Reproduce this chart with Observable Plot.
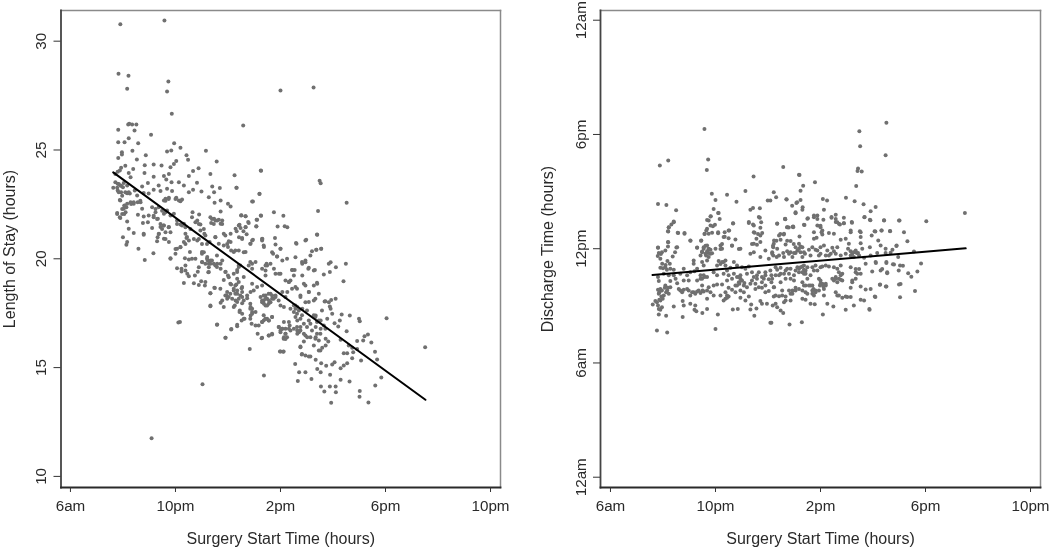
<!DOCTYPE html>
<html><head><meta charset="utf-8">
<script src="https://cdn.jsdelivr.net/npm/d3@7"></script>
<script src="https://cdn.jsdelivr.net/npm/@observablehq/plot@0.6"></script>
<style>
html,body{margin:0;padding:0;background:#fff}
#wrap{position:relative;width:1050px;height:547px;overflow:hidden}
#wrap svg{position:absolute;top:0;filter:blur(0.35px)}
</style></head><body><div id="wrap"></div>
<script>
const xTicks=[6,10,14,18,22];
const xTickLabels=["6am","10pm","2pm","6pm","10pm"];
const losTicks=[10,15,20,25,30];
const dischargeTicks=[0,6,12,18,24];
const dischargeTickLabels=["12am","6am","12pm","6pm","12am"];
const xLabel="Surgery Start Time (hours)";
const losLabel="Length of Stay (hours)";
const dischargeLabel="Discharge Time (hours)";
const losFit=[[7.63,23.97],[19.52,13.52]];
const dischargeFit=[[7.6,10.62],[19.53,12.02]];

const losPoints=[
[7.9,30.78],[9.58,30.95],[7.83,28.5],[8.21,28.41],[8.16,27.81],[9.73,28.15],[9.68,27.69],[9.86,26.66],[12.58,26.13],[8.2,26.17],[8.24,26.2],[8.35,26.17],[8.51,26.17],[7.82,25.93],[8.44,25.9],[9.07,25.7],
[14,27.73],[15.26,27.87],[9.09,11.75],[11.03,14.23],[10.11,17.07],
[7.82,25.36],[8.06,25.36],[8.22,25.54],[8.58,25.31],[7.96,24.9],[7.96,24.79],[7.82,24.63],[8.36,24.96],[8.53,24.56],[8.87,24.76],[9.95,25.31],[9.84,24.98],[9.68,24.93],[10.19,25.1],[10.42,24.76],[10.48,24.55],[11.16,24.96],[11.57,24.47],[13.25,24.06],[12.25,23.84],[12.32,23.26],[11.33,23.9],[10.88,24.16],[10.67,24.04],[10.51,23.81],
[10.03,24.49],[9.94,24.36],[9.81,24.21],[9.47,24.29],[9.17,24.33],[8.83,24.3],[8.39,24.13],[8.09,24.28],[7.93,24.18],[7.8,24],[7.88,24.06],[7.71,23.9],[8.22,23.94],[8.29,23.75],[8.82,23.94],[9.17,23.77],[9.56,23.8],[9.75,23.9],[9.65,23.64],[9.85,23.52],[10.13,23.52],[10.32,23.37],[10.82,23.5],
[7.71,23.52],[7.63,23.26],[7.8,23.45],[7.9,23.37],[8.03,23.48],[8.16,23.37],[7.8,23.14],[7.93,23.06],[7.9,22.68],[8.16,23.02],[8.26,23],[8.45,23.14],[8.73,23.32],[8.95,23.48],[8.54,22.91],[8.79,23.02],[8.98,23],[9.17,23.17],[9.36,23.37],[9.43,23.11],[9.68,23.22],[9.87,23.11],[9.62,22.76],[9.75,22.8],[9.56,22.68],[10.03,22.8],[10.25,22.73],[10.13,22.68],[10.51,23.06],[10.67,23.17],[10.99,23.09],[11.27,22.83],[11.4,23.32],[11.69,23.25],[11.47,23.06],[11.72,22.68],[11.49,22.57],[12,22.53],[12.1,22.4],[12.92,22.63],[13.2,22.99],[11.72,22.17],[13.25,21.99],
[8.06,22.45],[8.16,22.53],[8.29,22.6],[8.41,22.53],[8.67,22.6],[7.78,22.1],[8.1,22.14],[7.88,21.91],[8.03,22.3],[7.97,22.06],[8.73,22.3],[8.57,22.02],[8.79,21.94],[9.11,22.37],[9.24,22.14],[8.98,21.99],[9.17,21.91],[9.33,21.84],[9.56,22.07],[9.68,22.22],[9.81,21.99],[9.94,22.07],[10.06,21.76],[10.19,21.58],[10.32,21.61],[10.65,22.14],[10.63,21.91],[10.9,22.04],[10.83,21.76],[10.95,21.58],[11.33,21.91],[11.47,21.84],[11.59,21.76],[11.78,21.76],[11.36,21.64],[11.72,21.61],[12.5,21.99],[12.67,21.96],[12.79,21.64],[12.41,21.53],[12.29,21.38],[12.67,21.46],[13.11,21.79],[13.08,21.49],
[8.16,21.71],[8.22,21.38],[8.41,21.18],[8.79,21.15],[8.76,21.64],[8.95,21.68],[9.11,21.41],[9.43,21.46],[9.56,21.53],[9.75,21.46],[9.37,21.15],[9.62,21.22],[9.3,20.81],[9.56,20.92],[9.75,20.77],[8,20.99],[8.16,20.77],[8.13,20.64],[8.59,20.46],[8.83,19.95],[9.16,20.26],[9.81,20.03],[10,20.23],[10.19,20.54],[10.06,20.46],[10.38,21.15],[10.42,20.96],[10.32,20.77],[10.55,20.31],[10.63,20],[10.83,20.84],[10.95,21.3],[11.1,21.15],[11.3,20.77],[11.01,20.31],[11.21,20.08],[11.52,21],[11.65,20.69],[11.84,21.15],[12.1,21.15],[12.1,20.77],[12,20.54],[12.41,20.38],[12.22,20.31],[12.67,20.31],[12.86,20.69],[13.3,20.92],[13.37,20.54],[11.59,19.77],[11.72,19.77],[11.27,19.77],[12.41,19.62],
[15.39,21.12],[14.95,20.84],[14.59,20.72],[15.2,20.35],[15.14,20.15],[15.36,20.41],[15.55,20.46],[14,20.46],[13.3,20.84],[13.36,20.61],[12.85,20.69],[12.92,20.84],[12.54,20.96],[12.03,20.81],[11.84,20.61],[12.12,20.38],[12.28,20.38],[12.6,20.3],[13.68,20.3],[13.87,20.11],[14.25,20],[14.82,19.85],[14.95,19.92],[14.54,19.49],[14.44,19.49],[15.08,19.59],[15.31,19.49],[15.84,19.77],[15.88,19.39],[12.92,19.77],[13.05,19.85],[12.79,19.69],[13.49,19.69],[13.62,19.77],[13.3,19.54],[13.43,19.46],[13.81,19.31],[12.41,19.69],[12.35,19.49],[11.58,20.15],[11.39,19.92],[11.52,19.69],[11.78,19.92],[11.9,19.39],[11.27,19.39],[11.01,20.23],[11.01,19.85],[11.14,18.93],[11.48,18.67],[11.33,18.42],[11.33,17.85],[11.78,18.08],[11.58,16.97],[11.9,16.37],[12.13,16.77],[11.97,18.47],[12.09,18.85],[12.28,18.77],[12.41,18.93],[12.6,19.16],[12.54,18.47],[12.28,18.39],[12.47,18.31],[12.73,18.31],[12.16,18.16],[12.35,18.01],[12.6,18.08],[12.45,17.62],[12.6,17.24],[12.35,16.97],[12.85,17.7],[12.92,17.47],[13.05,17.55],[13.11,18.7],[13.3,18.77],[12.98,18.54],[12.92,18.85],[13.43,18.31],[13.36,18.08],[13.62,18.39],[13.68,18.16],[13.55,17.93],[13.81,18.31],[13.93,18.08],[13.36,17.4],[13.49,17.24],[13.3,17.09],[13.68,17.32],[13.17,16.94],[13.13,16.55],[13.3,16.37],[13.55,16.48],[13.68,16.55],[12.83,15.85],[14,15.74],[14.12,15.74],[13.93,16.86],[14.06,16.78],[14.19,16.55],[14.12,16.32],[14.35,16.94],[14.38,16.71],[14.63,16.86],[14.7,16.63],[14.89,16.55],[15.14,16.4],[15.33,16.32],[15.52,16.55],[14.76,15.94],[14.82,15.63],[15.14,15.51],[15.52,15.79],[14.19,18.24],[14.44,18.62],[14.32,18.93],[14.63,18.62],[14.95,18.77],[15.39,18.9],[15.08,18.47],[14.76,18.31],[15.33,18.16],[15.71,18.05],[14.57,17.85],[14.7,17.62],[14.38,17.7],[14.95,18],[15.01,17.62],[14.82,17.4],[15.27,17.4],[15.58,17.62],[15.84,18],[15.39,17.09],[15.78,17.24],[15.71,16.78],[15.01,16.86],
[15.91,19.84],[16.11,19.61],[16.49,19.77],[16.4,18.97],[15.65,19.28],[15.55,20.46],[15.37,20.41],[15.93,18.11],[16.1,18.16],[15.68,18.04],[15.88,17.81],[15.91,17.7],[15.97,17.47],[16.33,17.44],[16.64,17.39],[16.99,17.24],[17.02,17.13],[18.04,17.27],[16.26,17.16],[16.06,17.04],[16.2,16.89],[16.52,16.67],[17.33,16.52],[17.2,16.44],[17.15,16.25],[16.92,16.22],[17.46,16.15],[16.29,16.28],[16.6,16.02],[16.73,15.91],[16.92,15.86],[16.41,15.66],[16.54,15.66],[16.77,15.71],[17.6,15.73],[17.68,15.37],[16.73,15.43],[17.07,15.33],[19.51,15.94],[16.54,15.2],[16.41,15.1],[16.29,14.97],[16.06,15.25],[15.97,15.14],[15.74,15.08],[15.55,15.2],[15.34,15.36],[15.4,14.94],[15.53,14.79],[15.89,14.67],[15.18,14.48],[14.95,14.79],[14.71,14.79],[14.56,15.17],[14.66,14.38],[14.81,15.6],[14.95,15.56],[15.08,15.51],[16.29,14.44],[16.63,14.36],[15.54,14.13],[15.67,13.9],[15.88,14.13],[16.1,14.13],[16.11,13.87],[15.93,13.38],[17.02,13.92],[17.01,13.66],[17.35,13.4],[17.61,14.18],[17.84,14.55],
[13.37,14.64],[13.98,15.74],[14.1,15.73],[13.28,16.35],[13.56,16.48],[13.68,16.52],[14.13,16.4],[14.19,16.31],[14.76,15.97],[15.27,16.02],[15.46,15.79],[15.59,15.91],[15.72,16.02],[15.02,16.4],[15.34,16.4],[15.46,16.25],[15.72,16.32],[15.82,16.2],[14.89,16.2],[14.64,16.55],[14.76,16.71],[14.51,16.78],[14.95,16.48],[15.14,17.01],[15.34,16.86],[15.53,16.78],[15.65,16.93],
[13.81,20.66],[14,20.46],[14.61,20.69],[13.72,20.23],[13.87,20.1],[14.07,19.92],[14.57,20.07],[14.95,19.84],[14.83,19.77],[15.06,19.54],[14.45,19.49],[15.27,19.46],[13.47,19.77],[13.75,19.54],[13.94,19.31],[13.43,19.23],[14.51,19.23],[14.83,19.23],[14.32,18.93],[14.89,18.85],[15.4,18.85],[15.27,18.77],[14.57,18.7],[14.07,18.47],[14.26,18.47],[14.76,18.24],[15.08,18.47],[15.46,18.39],[15.08,18.01],[15.27,18.08],[14.64,17.78],[14.51,17.85],[14.83,17.7],[15.34,17.39],[15.53,17.16],
[9.81,20],[10.36,20.03],[10.51,19.97],[10.76,20],[11.02,19.84],[11.23,19.92],[11.33,19.77],[11.72,19.54],[10.06,19.57],[10.23,19.54],[10.23,19.42],[10.38,19.69],[10.38,19.46],[10.45,19.31],[10.51,19.2],[10.89,19.61],[10.85,19.41],[11.27,19.61],[11.25,19.38],[10.74,19.23],[10.32,18.89],[10.7,18.88],[10.89,18.8],[10.98,18.97],[11.12,18.77],[11.5,18.66],[11.84,19.03],[12,19.23],[11.91,19.41],[12.03,19.15],[12.35,19.08],[11.33,18.42],[11.33,17.82],[11.72,17.98],[11.84,17.78],[10.17,17.09],[11.59,16.98],[12.12,16.75],[12.35,16.9],[12.52,17.16],[12.63,17.24],[12.9,17.01],[11.91,16.37],[11.94,18.31],[12.03,18.24],[12.12,18.82],[12.32,18.82],[12.22,18.54],[12.35,18.39],[12.52,18.65],[12.54,18.24],[12.29,18.08],[12.26,17.85],[12.54,17.96],[12.73,18.19],[12.86,18.47],[12.44,17.55],[12.86,17.78],[12.92,17.55],[12.86,17.39],
[13.26,24.05],[12.33,23.26],[13.2,22.98],[12.95,22.63],[12.51,22],[12.67,21.95],[13.26,21.98],[13.75,22.14],[14.11,21.98],[13.09,21.79],[12.77,21.69],[12.44,21.57],[13.08,21.48],[12.67,21.45],[13.89,21.48],[14.16,21.49],[14.26,21.45],[12.48,21.42],[12.59,21.26],[12.33,21.26],[12.71,21.13],[12.42,20.99],[12.54,20.91],[12.95,20.87],[13.31,20.91],[13.79,20.96],[15.4,21.1],[14.98,20.87],[15.49,23.59],[15.53,23.47],[16.52,22.57],[15.43,22.2],
[7.84,23.44],[7.93,23.36],[8,23.29],[7.78,23.26],[7.84,23.06],[7.97,22.9],[7.88,22.7],[8.09,23.06],[8.16,23.01],[8.22,23.06],[8.05,22.44],[8.13,22.37],[7.97,22.29],[7.78,22.06],[7.9,21.88],[8.05,22.06],[8.41,22.6],[8.31,22.52],[8.56,22.6],[8.66,22.67],[9.24,22.29],[9.36,22.37],[9.49,22.21],[9.62,22.14],[9.17,21.98],[9.3,21.83],[9.43,21.6],[9.62,22.67],[9.74,22.75],[10,22.75],[10.19,22.64],[9.49,21.37],[9.55,21.53],[9.74,21.45],[10.06,21.6],[10.25,21.53],[10.38,21.45],[10.57,21.37],[10.76,21.68],[10.89,21.6],[11.08,21.37],[11.39,21.83],[11.52,21.76],[11.65,21.79],[11.46,21.6],[11.78,21.6],[10.44,21],[10.51,20.84],[10.7,20.91],[10.89,20.91],[11.01,20.68],[10.38,20.68],[10.19,20.53],[10,20.45],[8.79,21.11],[9.36,21.14],[9.32,20.99],[9.62,20.91],[9.81,21.22],[11.14,21.07],[11.52,20.99],[11.9,21.07],[11.97,20.68],[11.2,20.68],
[11.08,20.3],[11.2,20],[11.33,19.92],[11.46,19.77],[11.58,19.62],[11.14,19.77],[12.22,18.62],[12.35,18.54],[12.09,18.39],[12.41,18.16],[12.54,18.7],[13.24,18.24],[13.36,18.31],[13.49,18.16],[13.3,18],[13.43,17.85],[13.62,18],[13.74,18.16],[13.55,18.39],[12.85,17.93],[12.92,17.7],[13.43,17.24],[13.55,17.17],[13.36,17.17],[14,16.71],[14.19,16.78],[14.25,16.4],[14.57,17.7],[14.63,17.47],[14.76,17.24],[14.89,17.01],[15.08,17.17],[15.33,17.32],[15.46,17.17],[15.2,16.71],[15.39,16.55],[12.22,19.31],[12.35,19.39],[12.47,19.69],[12.85,19.85],[12.92,19.54],[13.43,19.69],[14,19.31],[14.19,19],[14.38,19],[11.71,18.62],[11.9,18.31],[11.97,18.16],[12.22,17.78],[12.54,17.47],[12.85,17.24],[13.05,16.94],
[13.3,18.08],[13.43,18.16],[13.56,18.08],[13.37,17.93],[13.49,17.85],[13.68,18.31],[13.81,18.24],[14,17.85],[14.13,17.78],[13.43,17.24],[13.56,17.17],[13.68,17.32],[13.3,17.09],[13.94,16.86],[14.07,16.78],[14,16.63],[14.19,16.55],[14.32,16.78],[14.64,16.71],[14.76,16.86],[14.57,17.32],[14.51,17.55],[14.64,17.16],[14.13,17.09],[14.32,17.09]
];

const dischargePoints=[
[9.58,18.29],[9.72,16.68],[9.67,16.14],[8.2,16.63],[7.88,16.37],[12.58,16.29],[13.18,15.89],[11.45,15.79],[11.14,15.03],[9.86,14.88],[10.44,14.84],[10,14.56],[7.81,14.35],[8.13,14.3],[10.8,14.47],[12.22,14.96],[12.31,14.7],[11.99,14.53],[12.09,14.53],[12.7,14.6],[13.11,14.44],[12.92,14.26],[8.5,14.02],[9.93,14.09],[11.43,14.14],[11.69,14.12],[11.33,14.04],[10.1,13.88],[9.82,13.7],[10.16,13.56],[9.68,13.51],[12.65,13.56],[11.69,13.62],[11.74,13.39],[11.27,13.35],[11.43,13.27],[12.35,13.32],[10.67,13.32],[8.41,13.39],[8.32,13.27],[8.22,13.12],[9.9,13.18],[9.65,12.95],[8.58,12.83],[8.82,12.79],[8.2,12.91],[9.87,12.84],[10.1,12.81],[10.35,12.86],[10.52,12.95],[10.35,12.63],[10.5,12.55],[9.58,12.77],[11.46,12.86],[11.78,12.83],[11.62,12.77],[12.79,13.12],[12.94,13.16],[9.05,12.42],[8.2,12.34],[7.81,12.07],[8.51,12.07],[9.3,12.07],[9.45,12.42],[9.62,12.16],[9.74,11.99],[9.87,11.76],[9.49,11.86],[10.25,12.25],[10.19,11.99],[10.63,12.16],[10.89,11.99],[11.39,12.25],[11.58,12.21],[12.47,12.77],[12.6,12.74],[12.32,12.42],[12.19,12.16],[12.73,12.42],[12.98,12.25],
[7.81,12.05],[7.84,11.77],[7.96,11.82],[7.9,11.47],[8.09,11.91],[8.37,11.59],[8.19,12.35],[8.19,12.12],[8.54,12.08],[7.9,11],[8.09,11.03],[8.26,11.21],[8.28,10.95],[8.41,10.89],[8.79,10.95],[7.81,10.51],[8.03,10.68],[8.22,10.6],[8.41,10.6],[7.84,10.3],[8.28,10.3],[8.54,10.19],[8.79,10.33],[8.98,10.33],[9.2,10.82],[9.17,11.38],[9.17,11.21],[9.3,10.95],[9.55,11.12],[9.49,11.3],[9.68,11.38],[9.43,11.65],[9.62,11.73],[9.74,11.77],[9.55,12],[9.74,12],[9.81,11.73],[9.68,12.17],[10,12],[10.19,12.17],[10.25,12],[9.04,12.43],[9.3,12.05],[9.46,12.43],[10.12,11.35],[10.31,11.3],[10.06,11.12],[10.38,11.12],[10.7,11.3],[10.95,12],[10.63,12.17],[10.76,12.49],[10.5,12.96],[10.31,12.61],[10.1,12.87],[11.46,12.26],[11.56,12.52],[11.71,12.35],[11.33,11.73],[11.46,11.82],[11.9,11.91],[11.71,11.56],[12.16,11.82],[12.03,11.47],[12.22,12.26],
[9.55,10.6],[9.43,10.42],[9.68,10.51],[9.49,10.07],[9.93,10.77],[10.06,10.6],[10.31,10.68],[10.44,10.33],[10.63,10.42],[10.82,10.51],[10.95,10.6],[10.89,10.24],[11.01,10.33],[10.76,10.07],[11.08,10.07],[11.2,10.68],[11.39,10.77],[11.58,10.6],[11.65,10.77],[11.9,10.77],[12.09,10.86],[11.39,10.33],[11.52,10.16],[11.77,10.24],[11.9,10.07],[12.13,10.24],[12.22,9.98],
[7.9,9.89],[8.09,10.07],[8.16,9.81],[7.84,9.63],[8.03,9.54],[8.22,9.63],[7.77,9.19],[7.9,9.28],[7.61,9.07],[7.84,8.84],[7.96,8.93],[8.41,8.97],[7.84,8.55],[8.12,8.48],[8.75,8.42],[7.77,7.71],[8.16,7.6],[10,7.79],[10.09,8.55],[11.48,8.48],[12.09,8.11],[9.5,8.62],[9.2,8.79],[9.27,8.72],[9.68,8.83],[10.66,8.81],[10.85,8.83],[11.33,8.81],[11.56,8.86],[8.75,9.25],[8.79,9.02],[9.04,9.11],[9.23,9.02],[8.6,9.89],[8.73,9.72],[8.92,9.89],[9.04,9.54],[9.17,9.72],[9.36,9.81],[9.55,9.75],[9.68,9.37],[9.93,10.07],[9.93,9.54],[10.19,9.54],[10.38,9.72],[10.38,9.37],[10.5,9.49],[10.31,9.28],[10.76,9.72],[10.95,9.81],[11.08,9.72],[10.95,9.42],[11.14,9.28],[11.27,9.49],[11.36,9.07],[11.71,9.25],[11.77,9.11],[11.96,9.11],[12.18,9.02],[12.22,9.49],[11.52,9.89],[11.77,9.95],
[10.12,13.87],[9.81,13.69],[8.41,13.43],[8.22,13.13],[8.19,12.92],[8.56,12.84],[8.82,12.82],[9.74,13.48],[9.68,13.05],[9.81,13.22],[9.98,13.26],[9.59,12.78],[9.74,12.78],[10.67,13.34],[11.27,13.4],[11.46,13.22],[11.71,13.1],[11.65,13.66],[11.49,12.84],[11.71,12.7],
[13.05,13.92],[12.65,13.57],[12.35,13.31],[12.73,13.13],[12.96,13.17],[13.37,13.26],[13.5,13.57],[13.75,13.75],[14.11,13.52],[13.88,13.22],[14,13.13],[14.42,13.66],[14.58,13.4],[14.7,13.31],[14.89,13.34],[15.19,13.4],[15.68,13.66],[15.88,13.52],[16.42,13.48],[16.99,13.48],[15.5,12.92],[15.15,12.87],[14.96,12.52],[14.77,12.47],[14.51,12.78],[14.32,12.82],[14.07,12.96],[13.75,12.87],[13.75,12.52],[13.85,12.57],[14.07,12.75],[15.95,12.7],[16.06,12.92],[16.33,12.96],[16.65,12.92],[16.2,12.43],[16.29,12.17],[16.9,12.17],[16.74,11.94],[16.48,12],[15.88,12.08],[15.53,12.61],[15.53,12.29],[15.59,12],[15.08,12.26],[15.05,12],[14.64,12.08],[14.45,12.05],[14.13,12.17],[14,12.08],[13.81,11.94],[13.69,12.08],[12.61,12.78],[12.42,12.7],[12.23,12.43],[12.48,12.47],[12.67,12.22],[12.86,12.4],[13.2,12.64],[13.18,12.26],[13.31,12.08],[13.56,11.94],[13.05,12.08],[12.86,11.82],[13.05,11.77],[13.24,11.82],[13.41,11.73],[12.2,12.08],[12.35,12],[12.58,11.77],[12.16,11.73],[12.33,11.56],[12.61,11.56],[12.93,11.56],[13.31,11.56],[13.62,11.65],[14.39,11.73],[14.58,11.73],[14.2,11.65],[14.96,11.73],[15.15,11.87],[15.34,11.91],[15.43,11.77],[15.66,11.52],[15.27,11.56],[15.91,11.65],[16.16,11.77],[16.48,11.77],[16.67,11.79],
[12.29,11.03],[12.48,11],[12.67,10.86],[12.86,10.95],[13.12,11.03],[13.31,11.07],[13.43,10.86],[13.69,11.03],[14.07,11.07],[14.32,11.07],[14.77,11.12],[14.7,10.77],[14.58,10.51],[14.83,10.68],[14.45,10.42],[14.77,10.37],[15.34,10.77],[15.47,10.94],[15.53,10.68],[15.21,10.24],[15.34,10.42],[15.72,11.21],[15.97,10.8],[16.1,11.3],[16.35,10.94],[16.54,10.77],[16.51,11.3],[16.8,11.17],[16.96,11.56],[17.03,11.12],
[12.29,10.6],[12.48,10.68],[12.8,10.68],[12.99,10.6],[13.18,10.77],[13.37,10.68],[13.62,10.6],[13.88,10.86],[12.48,10.24],[12.99,10.33],[13.31,10.24],[13.5,10.42],[13.94,10.42],[14,10.16],[14.2,10.07],[14.13,9.89],[13.69,10.07],[13.43,10.07],[13.18,9.89],[13.05,9.81],[12.8,9.81],[12.54,9.81],[12.23,9.98],[12.29,9.54],[12.42,9.51],[12.67,9.49],[12.93,9.63],[13.43,9.72],[13.31,9.37],[13.69,9.63],[13.81,9.81],[14.13,9.54],[12.86,9.28],[12.61,9.19],[12.29,9.11],[12.35,8.93],[13.43,9.32],[13.62,9.11],[13.78,9.09],[14.26,9.11],[14.49,8.97],[14.96,8.79],[15.27,9.02],[15.53,9.32],[15.66,9.28],[15.86,8.83],[14.64,9.54],[14.83,9.42],[15.02,9.46],[15.15,9.95],[15.53,10.02],[15.72,9.86],[15.91,9.89],[16.07,9.49],[16.27,10.12],[16.51,10.02],[16.99,10.12],[12.48,8.76],[12.58,8.62],[12.13,8.11],[12.82,8.02],[13.29,8.14],[14.09,8.55],
[16.51,18.62],[15.48,18.17],[15.51,17.38],[16.48,16.91],[15.43,16.21],[15.41,16.08],[15.57,16.05],[13.2,15.87],[13.79,15.49],[13.34,15.31],[13.24,15.05],[15.36,15.3],[12.71,14.58],[13.24,14.56],[13.08,14.4],[13.32,14.18],[13.31,14.04],[13.05,13.86],[14.09,14.61],[14.25,14.53],[14.97,14.68],[15.3,14.49],[14.13,14.05],[15.64,14.33],[16.1,14.19],[15.91,13.97],[15.67,13.65],[15.9,13.49],[16.42,13.49],[17.01,13.48],[18.03,13.44],[19.5,13.88],[12.66,13.55],[13.52,13.6],[13.75,13.65],[13.88,13.74],[13.88,13.56],[13.39,13.25],[14.58,13.79],[14.42,13.63],[14.58,13.56],[14.64,13.39],[14.74,13.27],[14.89,13.62],[14.89,13.34],[15.2,13.37],[14,13.2],[14.04,12.86],[12.96,13.13],[12.73,13.13],[15.15,12.95],[15.53,12.86],[16.09,12.9],[16.32,12.95],[16.65,12.93],[17.18,12.86],[17.31,12.39],[16.89,12.14],[17.56,11.86],[17.83,11.23],[17.14,11.11],[16.76,11.18],[16.51,11.25],[16.11,11.25],[16.98,10.85],[17.34,10.71],[17.46,10.53],[17.69,10.8],[17.05,10.15],[17.6,9.78],[17.03,9.45],[16.49,10.01],[16.26,10.11],[16.09,9.46],[15.87,8.8],[16.54,10.71],[16.29,10.85],
[8.66,9.81],[8.79,9.84],[8.98,9.81],[9.11,9.72],[9.23,9.63],[9.3,9.75],[9.43,9.67],[9.51,9.81],[9.68,9.81],[9.81,9.72],[7.81,9.84],[7.86,9.72],[7.96,9.81],[8.07,9.95],[8.12,9.72],[8.19,9.95],[7.94,9.49],[7.86,9.32],[7.71,9.25],[7.99,9.37],[7.81,9.02],[7.9,8.79],[9.55,12.08],[9.68,11.87],[9.81,11.94],[9.64,11.65],[9.49,11.82],[9.74,11.56],[10.19,11.2],[10.25,11.3],[10.38,11.38],[9.49,10.42],[9.59,10.51],[9.43,10.6],[10.95,10.42],[10.89,10.51],[10.98,10.33],[10.91,10.16],[10.82,10.07],[10.44,9.54],[10.44,9.42],[11.01,11.03],[11.14,10.95],[11.27,11.07],[10.44,10.86],[10.57,11],[10.82,11.12],[11.77,10.51],[11.84,10.42],[11.9,10.6],[12.03,10.4],[12.13,10.6],[11.58,10.42],[11.46,10.51],[10.7,10.68],[10.5,10.6],[11.1,10.2],[11.2,9.98],[11.33,10.16],[11.65,9.98],[12.03,9.78],[11.9,9.72],[10.63,9.84],[10.5,9.95],[10.25,10.12],[10.06,10.12],[9.74,9.98],[8.92,10.6],[9.04,10.77],[9.3,10.33],[8.66,10.68],[8.28,9.98],[8.48,10.42],[8.15,10.9],[8,10.98],[7.97,11.21],[8.1,11.15],[8.17,11.35],[8.46,11.82],[7.92,11.72],[7.8,11.62],
[13.24,11.03],[13.37,10.89],[13.31,10.77],[13.18,10.95],[13.43,10.68],[13.05,10.86],[13.62,10.07],[13.73,9.89],[13.81,9.72],[13.69,9.81],[13.56,10.07],[14,10.33],[14.07,10.16],[14.11,10.02],[13.98,10.07],[14.58,10.42],[14.7,10.42],[14.83,10.33],[14.51,10.33],[14.64,10.24],[14.77,10.6],[15.27,11.82],[15.38,11.77],[15.21,11.73],[15.47,11.65],[15.15,11.65],[12.99,11.77],[13.12,11.91],[13.18,12],[13.24,12.12],[12.8,11.73],[12.73,11.87],[13.37,11.82],[12.42,11.65],[12.2,11.65],[14,11.73],[13.94,11.65],[14.32,11.65],[14.77,11.65],[12.35,10.89],[12.42,10.6],[12.61,10.68],[12.73,10.95],[12.67,10.42],[12.86,10.42],[12.16,10.42],[13.37,11.12],[13.5,11.03],[13.75,10.86],[13.81,11.12],[14,11.03],[14.2,11.12],[14.51,11.03],[14.64,10.95],[15.15,11.03],[15.34,10.94],[15.4,10.68],[15.21,10.33],[12.93,9.81],[12.86,9.63],[13.05,9.95],[12.54,9.54],[12.67,9.28],[13.37,10.07],[13.31,9.81],[13.5,9.63],[13.75,9.54],[13.94,9.81],[14.7,9.54],[14.96,9.49],[15.15,9.46],[14.58,9.72],[14.2,10.16],[13.88,11.91],[14.26,11.91],[14.51,11.87]
];

const ink="#2a2a2a", dot="#707070", font="'Liberation Sans',Arial,sans-serif";
function panel({points,fit,xDomain,yDomain,yTicks,yFmt,yLabel,marginLeft,marginRight,left,labelOff}){
  const p=Plot.plot({
    width:525,height:547,marginLeft,marginRight,marginTop:10,marginBottom:60,
    style:{fontFamily:font,fontSize:"15.2px",color:ink,background:"transparent"},
    x:{domain:xDomain},y:{domain:yDomain},
    marks:[
      Plot.dot(points,{x:d=>d[0],y:d=>d[1],r:2,fill:dot,stroke:"none"}),
      Plot.line(fit,{x:d=>d[0],y:d=>d[1],stroke:"#000",strokeWidth:2}),
      Plot.frame({anchor:"top",stroke:"#8a8a8a",strokeWidth:1.5}),
      Plot.frame({anchor:"right",stroke:"#8a8a8a",strokeWidth:1.5}),
      Plot.frame({anchor:"left",stroke:"#444",strokeWidth:1.8}),
      Plot.frame({anchor:"bottom",stroke:"#2a2a2a",strokeWidth:1.8}),
      Plot.axisX({ticks:xTicks,tickFormat:d=>xTickLabels[xTicks.indexOf(d)],tickSize:5,tickPadding:8,label:null,stroke:"#333"}),
      Plot.axisY({ticks:yTicks,tickFormat:yFmt,tickSize:7,tickPadding:8,tickRotate:-90,label:null,stroke:"#333"}),
      Plot.text([xLabel],{frameAnchor:"bottom",lineAnchor:"middle",dy:51,fontSize:16,fill:ink}),
      Plot.text([yLabel],{frameAnchor:"left",textAnchor:"middle",lineAnchor:"middle",dx:-labelOff,rotate:-90,fontSize:16,fill:ink})
    ]
  });
  p.style.left=left+"px";
  document.getElementById("wrap").append(p);
}
panel({points:losPoints,fit:losFit,xDomain:[5.64,22.38],yDomain:[9.49,31.41],yTicks:losTicks,yFmt:d=>String(d),yLabel:losLabel,marginLeft:60.5,marginRight:25,left:0,labelOff:51.5});
panel({points:dischargePoints,fit:dischargeFit,xDomain:[5.62,22.38],yDomain:[-0.54,24.51],yTicks:dischargeTicks,yFmt:d=>dischargeTickLabels[dischargeTicks.indexOf(d)],yLabel:dischargeLabel,marginLeft:75,marginRight:10,left:525,labelOff:53});
</script></body></html>
